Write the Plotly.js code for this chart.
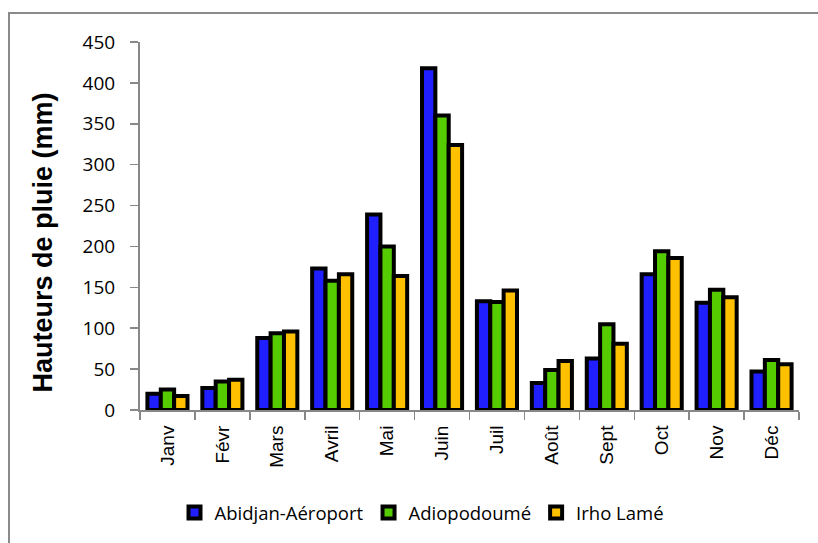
<!DOCTYPE html>
<html>
<head>
<meta charset="utf-8">
<script src="https://cdn.plot.ly/plotly-3.0.1.min.js"></script>
<style>
  html, body { margin: 0; padding: 0; background: #ffffff; }
  #chart { width: 818px; height: 543px; }
</style>
</head>
<body>
<div id="chart"></div>
<script>
const months = ["Janv", "Févr", "Mars", "Avril", "Mai", "Juin", "Juil", "Août", "Sept", "Oct", "Nov", "Déc"];
const seriesNames = ["Abidjan-Aéroport", "Adiopodoumé", "Irho Lamé"];
const abidjan = [20, 27, 88, 173, 239, 418, 133, 33, 63, 166, 131, 47];
const adiopodoume = [25, 35, 94, 158, 200, 360, 132, 49, 105, 194, 147, 61];
const irhoLame = [17, 37, 96, 166, 164, 324, 146, 60, 81, 186, 138, 56];
const yTicks = [0, 50, 100, 150, 200, 250, 300, 350, 400, 450];
const yTitle = "Hauteurs de pluie (mm)";
const colors = ["#1f1fff", "#55cc00", "#ffc000"];

const values = [abidjan, adiopodoume, irhoLame];
const traces = values.map((v, i) => ({
  type: "bar",
  name: seriesNames[i],
  x: months,
  y: v,
  marker: { color: colors[i], line: { color: "#000000", width: 4 } },
  hoverinfo: "x+y+name"
}));

const W = 818, H = 543;
const m = { l: 140, r: 19, t: 42, b: 132 };
const pw = W - m.l - m.r, ph = H - m.t - m.b;
const px = x => (x - m.l) / pw;
const py = y => (H - m.b - y) / ph;

const layout = {
  width: W, height: H,
  margin: m,
  paper_bgcolor: "#ffffff",
  plot_bgcolor: "#ffffff",
  barmode: "group",
  bargap: 0.27,
  bargroupgap: 0,
  showlegend: true,
  legend: {
    orientation: "h",
    x: px(422), xanchor: "center",
    y: py(513), yanchor: "middle",
    font: { family: "Open Sans, sans-serif", size: 18.5, color: "#000000" },
    itemwidth: 30,
    traceorder: "normal"
  },
  xaxis: {
    type: "category",
    showgrid: false,
    showline: true,
    linecolor: "#888888",
    linewidth: 2,
    ticks: "outside",
    tickson: "boundaries",
    ticklen: 8,
    tickwidth: 1.5,
    tickcolor: "#888888",
    tickangle: -90,
    tickfont: { family: "Liberation Sans, Arial, sans-serif", size: 19, color: "#000000" },
    ticklabelstandoff: 6,
    zeroline: false,
    fixedrange: true
  },
  yaxis: {
    range: [0, 450],
    tickvals: yTicks,
    ticktext: yTicks.map(String),
    showgrid: false,
    zeroline: false,
    showline: true,
    linecolor: "#888888",
    linewidth: 2,
    ticks: "outside",
    ticklen: 8,
    tickwidth: 1.5,
    tickcolor: "#888888",
    tickfont: { family: "Open Sans, sans-serif", size: 19, color: "#000000" },
    ticklabelstandoff: 11,
    fixedrange: true
  },
  annotations: [{
    text: yTitle,
    xref: "paper", yref: "paper",
    x: px(43), xanchor: "center",
    y: py(243), yanchor: "middle",
    textangle: -90,
    showarrow: false,
    font: { family: "Liberation Sans, Arial, sans-serif", size: 27, color: "#000000", weight: "bold" }
  }],
  shapes: [{
    type: "rect",
    xref: "paper", yref: "paper",
    x0: px(9), x1: px(830),
    y0: py(560), y1: py(13),
    line: { color: "#8a8a8a", width: 2 },
    fillcolor: "rgba(0,0,0,0)",
    layer: "below"
  }]
};

Plotly.newPlot("chart", traces, layout, { displayModeBar: false, staticPlot: true });
</script>
</body>
</html>
